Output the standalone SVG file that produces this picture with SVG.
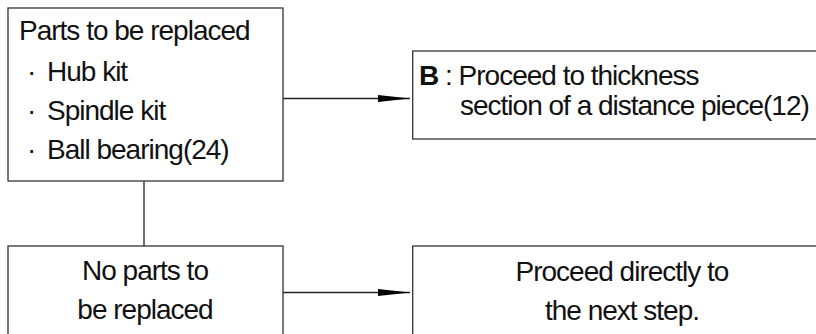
<svg xmlns="http://www.w3.org/2000/svg" width="816" height="334" viewBox="0 0 816 334">
<style>
.box{fill:#fff;stroke:#333;stroke-width:1.3}
.t{font-family:"Liberation Sans",Arial,Helvetica,sans-serif;font-size:28px;letter-spacing:-1px;fill:#111}
.c{text-anchor:middle}
.ln{stroke:#222;stroke-width:1.3;fill:none}
</style>
<defs>
<marker id="ah" markerUnits="userSpaceOnUse" markerWidth="32" markerHeight="8" refX="32" refY="4" orient="auto">
<path d="M0,0.5 L32,4 L0,7.5 Z" fill="#000"/>
</marker>
</defs>
<rect width="816" height="334" fill="#fff"/>
<g id="connectors">
<line class="ln" x1="144" y1="181" x2="144" y2="246"/>
<line class="ln" x1="283" y1="98.5" x2="410" y2="98.5" marker-end="url(#ah)"/>
<line class="ln" x1="283" y1="292.5" x2="410" y2="292.5" marker-end="url(#ah)"/>
</g>
<g id="parts">
<rect class="box" x="8" y="8" width="275" height="173"/>
<text class="t" x="19" y="39.5">Parts to be replaced</text>
<text class="t" x="27" y="81">·<tspan x="47">Hub kit</tspan></text>
<text class="t" x="27" y="120">·<tspan x="47">Spindle kit</tspan></text>
<text class="t" x="27" y="159">·<tspan x="47">Ball bearing(24)</tspan></text>
</g>
<g id="b">
<rect class="box" x="412.7" y="51" width="420" height="88"/>
<text class="t" x="419" y="85"><tspan font-weight="bold">B</tspan> : Proceed to thickness</text>
<text class="t" x="460" y="115">section of a distance piece(12)</text>
</g>
<g id="noparts">
<rect class="box" x="8" y="246" width="275" height="100"/>
<text class="t c" x="145" y="280">No parts to</text>
<text class="t c" x="145" y="319">be replaced</text>
</g>
<g id="next">
<rect class="box" x="412.7" y="246" width="420" height="100"/>
<text class="t c" x="622" y="281">Proceed directly to</text>
<text class="t c" x="622" y="320">the next step.</text>
</g>
</svg>
